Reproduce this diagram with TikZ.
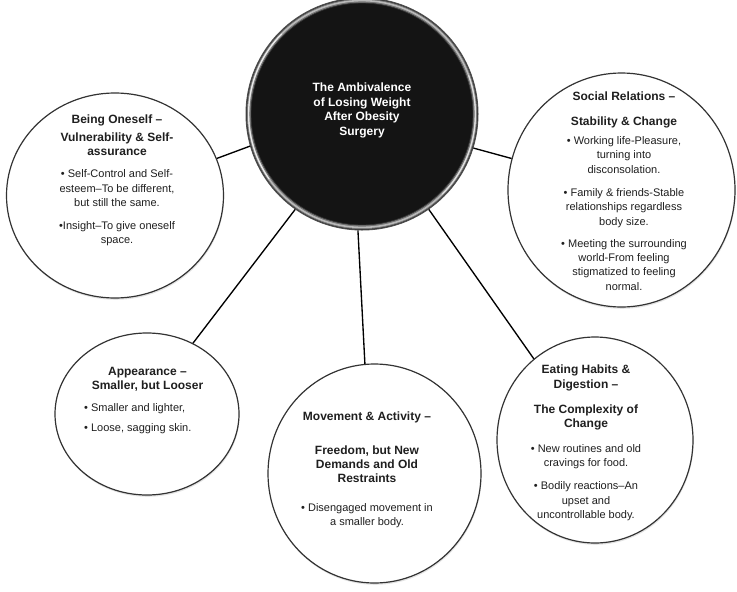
\documentclass[tikz,border=0pt]{standalone}
\usepackage{fontspec}
\setmainfont{Liberation Sans}
\usetikzlibrary{shapes.geometric,shadows}
\newcommand\mytitle[1]{{\fontsize{12}{14.5}\selectfont\bfseries #1}}
\begin{document}
\begin{tikzpicture}[x=1pt,y=-1pt,
  bubble/.style={ellipse, draw=black!80, line width=1.2pt, fill=white, inner sep=0pt,
    drop shadow={opacity=0.22, shadow xshift=0.6pt, shadow yshift=-1.8pt}},
  txt/.style={align=center, text=black!88, inner sep=0pt, anchor=north,
    font=\fontsize{11}{14.3}\selectfont},
  link/.style={draw=black, line width=1.35pt}]
\path[use as bounding box] (0,0) rectangle (737,592);

% outer bubbles
\node[bubble, minimum width=217pt, minimum height=205pt] (self) at (115,195.5) {};
\node[bubble, minimum width=227pt, minimum height=234pt] (social) at (621.5,190) {};
\node[bubble, minimum width=184pt, minimum height=162pt] (appear) at (147,414) {};
\node[bubble, minimum width=213pt, minimum height=219pt] (move) at (374.5,473.5) {};
\node[bubble, minimum width=196pt, minimum height=206pt] (eat) at (595,440) {};

% central circle
\node[circle, minimum size=232pt, inner sep=0pt, fill=black!92, draw=black!70, line width=1pt] (ctr) at (362,114) {};
\draw[black!55, line width=4pt] (ctr.center) circle[radius=113.2pt];
\draw[gray!55, line width=1.6pt] (ctr.center) circle[radius=113.4pt];
\draw[black!80, line width=0.6pt] (ctr.center) circle[radius=110.9pt];
\draw[white, opacity=0.7, line width=1.2pt] ([shift={(135:113.4pt)}]ctr.center) arc[start angle=135, end angle=215, radius=113.4pt];
\draw[white, opacity=0.55, line width=1.2pt] ([shift={(-45:113.4pt)}]ctr.center) arc[start angle=-45, end angle=20, radius=113.4pt];

% connectors
\draw[link] (ctr.196) -- (self.20);
\draw[link] (ctr.343) -- (social.164);
\draw[link] (ctr.235) -- (appear.57);
\draw[link] (ctr.268.5) -- (move.95);
\draw[link] (ctr.305) -- (eat.127);

% texts
\node[txt, text=white, font=\fontsize{12}{14.5}\selectfont\bfseries] (ctrtext) at (362,83)
  {The Ambivalence\\of Losing Weight\\After Obesity\\Surgery};

\node[txt] (selftext) at (117,115)
  {\mytitle{Being Oneself –}\\[3pt]\mytitle{Vulnerability \& Self-}\\\mytitle{assurance}\\[8pt]
   • Self-Control and Self-\\esteem–To be different,\\but still the same.\\[9pt]
   •Insight–To give oneself\\space.};

\node[txt] (socialtext) at (624,92)
  {\mytitle{Social Relations –}\\[10pt]\mytitle{Stability \& Change}\\[5pt]
   • Working life-Pleasure,\\turning into\\disconsolation.\\[9pt]
   • Family \& friends-Stable\\relationships regardless\\body size.\\[8pt]
   • Meeting the surrounding\\world-From feeling\\stigmatized to feeling\\normal.};

\node[txt] (appeartitle) at (147.5,367)
  {\mytitle{Appearance –}\\\mytitle{Smaller, but Looser}};
\node[txt, align=left, anchor=north west] (appearlist) at (84,403)
  {• Smaller and lighter,\\[6pt]• Loose, sagging skin.};

\node[txt] (movetext) at (367,412)
  {\mytitle{Movement \& Activity –}\\[19pt]\mytitle{Freedom, but New}\\\mytitle{Demands and Old}\\\mytitle{Restraints}\\[14pt]
   • Disengaged movement in\\a smaller body.};

\node[txt] (eattext) at (586,365)
  {\mytitle{Eating Habits \&}\\\mytitle{Digestion –}\\[11pt]\mytitle{The Complexity of}\\\mytitle{Change}\\[10pt]
   • New routines and old\\cravings for food.\\[9pt]
   • Bodily reactions–An\\upset and\\uncontrollable body.};
\end{tikzpicture}
\end{document}
